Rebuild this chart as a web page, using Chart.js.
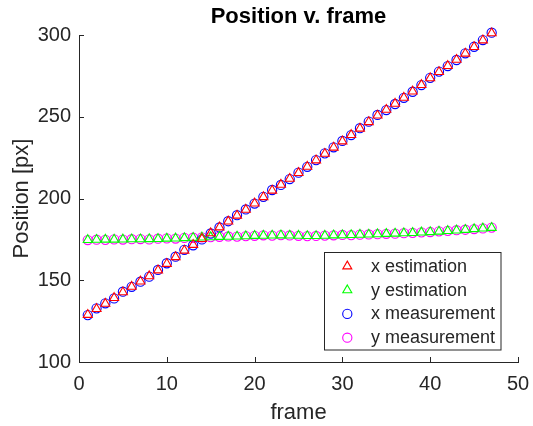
<!DOCTYPE html>
<html><head><meta charset="utf-8">
<script src="https://cdn.jsdelivr.net/npm/chart.js@4/dist/chart.umd.min.js"></script>
<style>html,body{margin:0;padding:0;background:#fff;overflow:hidden}#wrap{width:533px;height:426px;position:relative}</style>
</head><body><div id="wrap"><canvas id="c" width="533" height="426"></canvas></div>
<script>
const frames = [1,2,3,4,5,6,7,8,9,10,11,12,13,14,15,16,17,18,19,20,21,22,23,24,25,26,27,28,29,30,31,32,33,34,35,36,37,38,39,40,41,42,43,44,45,46,47];
const xEstimation = [128.9,132.5,135.7,139.2,142.7,146.1,149.3,152.5,156.1,160.1,164.2,168.2,171.7,175.3,178.8,182.4,186.0,189.6,193.2,197.0,200.9,204.9,208.5,212.1,215.7,219.5,223.4,227.4,231.2,235.0,238.9,242.8,246.8,250.8,254.3,258.0,261.7,265.5,269.5,273.6,277.4,281.1,284.9,288.7,292.7,296.8,301.1];
const yEstimation = [174.7,174.8,174.9,174.9,175.0,175.1,175.1,175.2,175.3,175.5,175.6,175.8,176.0,176.2,176.4,176.6,176.7,176.8,177.0,177.2,177.3,177.4,177.5,177.4,177.3,177.1,177.1,177.3,177.5,177.6,177.7,177.9,178.0,178.2,178.4,178.6,178.8,179.0,179.3,179.5,179.8,180.2,180.5,180.9,181.3,181.7,182.1];
const xMeasurement = [128.7,132.8,135.9,138.9,143.0,146.0,149.1,152.2,156.3,160.4,164.4,168.6,171.4,175.0,178.6,182.3,186.1,189.8,193.3,196.9,201.0,205.2,208.3,211.9,215.8,219.4,223.5,227.6,231.3,235.2,238.8,243.0,247.0,251.1,254.1,257.8,261.6,265.3,269.4,273.8,277.6,281.0,284.7,288.8,292.8,296.9,301.4];
const yMeasurement = [174.6,174.8,174.7,175.0,174.9,175.1,175.2,175.0,175.4,175.6,175.5,175.9,176.0,176.2,176.4,176.6,176.8,176.7,177.0,177.2,177.5,177.3,177.6,177.4,177.2,177.0,177.1,177.3,177.5,177.7,177.6,177.9,178.0,178.2,178.4,178.5,178.8,179.0,179.3,179.5,179.9,180.2,180.6,180.9,181.3,181.7,182.2];
const seriesLabels = ['x estimation','y estimation','x measurement','y measurement'];
const xTicks = [0,10,20,30,40,50];
const yTicks = [100,150,200,250,300];
const titleText = 'Position v. frame';
const xTitle = 'frame';
const yTitle = 'Position [px]';

const FONT = '"Liberation Sans", Arial, Helvetica, sans-serif';
const AX = '#262626';
const colors = ['#ff0000','#00ff00','#0000ff','#ff00ff'];
const styles = ['triangle','triangle','circle','circle'];
const radii = [5.2,5.2,4.6,4.6];
const seriesVals = [xEstimation, yEstimation, xMeasurement, yMeasurement];

const pts = arr => frames.map((f,i)=>({x:f, y:arr[i]}));

const datasets = seriesVals.map((arr,i)=>({
  label: seriesLabels[i],
  data: pts(arr),
  showLine:false,
  pointStyle: styles[i],
  pointRadius: radii[i],
  pointHoverRadius: radii[i],
  borderColor: colors[i],
  backgroundColor: 'rgba(0,0,0,0)',
  pointBorderWidth: 1.1,
  borderWidth: 1.1,
  clip: false
}));

function marker(ctx, style, x, y, r){
  ctx.beginPath();
  if(style==='circle'){ ctx.arc(x,y,r,0,Math.PI*2); }
  else {
    let rad = 0;
    ctx.moveTo(x+Math.sin(rad)*r, y-Math.cos(rad)*r);
    rad += 2*Math.PI/3; ctx.lineTo(x+Math.sin(rad)*r, y-Math.cos(rad)*r);
    rad += 2*Math.PI/3; ctx.lineTo(x+Math.sin(rad)*r, y-Math.cos(rad)*r);
    ctx.closePath();
  }
  ctx.stroke();
}

const inwardTicks = {
  id:'inwardTicks',
  afterDatasetsDraw(chart){
    const {ctx, chartArea:a, scales:{x,y}} = chart;
    ctx.save(); ctx.strokeStyle=AX; ctx.lineWidth=1; ctx.beginPath();
    x.ticks.forEach(t=>{const px=Math.round(x.getPixelForValue(t.value))+0.5; ctx.moveTo(px,a.bottom); ctx.lineTo(px,a.bottom-5);});
    y.ticks.forEach(t=>{const py=Math.round(y.getPixelForValue(t.value))+0.5; ctx.moveTo(a.left,py); ctx.lineTo(a.left+5,py);});
    ctx.stroke(); ctx.restore();
  }
};

const boxLegend = {
  id:'boxLegend',
  afterDraw(chart){
    const ctx = chart.ctx;
    const bx=324.5, by=252.5, bw=176.5, bh=97.5;
    ctx.save();
    ctx.fillStyle='#fff'; ctx.fillRect(bx,by,bw,bh);
    ctx.strokeStyle=AX; ctx.lineWidth=1; ctx.strokeRect(bx,by,bw,bh);
    ctx.font = '18px '+FONT; ctx.textBaseline='middle'; ctx.textAlign='left';
    chart.data.datasets.forEach((ds,i)=>{
      const cy = 266.3 + 23.8*i;
      ctx.strokeStyle = ds.borderColor; ctx.lineWidth=1.1;
      marker(ctx, ds.pointStyle, 347.3, cy, ds.pointRadius);
      ctx.fillStyle = AX;
      ctx.fillText(ds.label, 371, cy+0.5);
    });
    ctx.restore();
  }
};

new Chart(document.getElementById('c'), {
  type:'scatter',
  data:{datasets},
  plugins:[inwardTicks, boxLegend],
  options:{
    responsive:false, animation:false, devicePixelRatio:1,
    layout:{padding:{left:0,right:15,top:0,bottom:0}},
    plugins:{
      legend:{display:false}, tooltip:{enabled:false},
      title:{display:true, text:titleText, fullSize:false, color:'#000',
        font:{family:FONT, size:22, weight:'bold', lineHeight:1.2}, padding:{top:4,bottom:4.6}}
    },
    scales:{
      x:{type:'linear', min:0, max:50,
        afterBuildTicks:s=>{s.ticks = xTicks.map(v=>({value:v}));},
        afterFit:s=>{s.height=64; s.paddingLeft=0; s.paddingRight=0;},
        grid:{display:false, drawTicks:false},
        border:{display:true, color:AX, width:1},
        ticks:{color:AX, padding:10, maxRotation:0, font:{family:FONT,size:20,lineHeight:1.2}},
        title:{display:true, text:xTitle, color:AX, font:{family:FONT,size:22,lineHeight:1.2}, padding:{top:0,bottom:0}}
      },
      y:{type:'linear', min:100, max:300,
        afterBuildTicks:s=>{s.ticks = yTicks.map(v=>({value:v}));},
        afterFit:s=>{s.width=79; s.paddingTop=0; s.paddingBottom=0;},
        grid:{display:false, drawTicks:false},
        border:{display:true, color:AX, width:1},
        ticks:{color:AX, padding:8, font:{family:FONT,size:20,lineHeight:1.2}},
        title:{display:true, text:yTitle, color:AX, font:{family:FONT,size:22,lineHeight:1.2}, padding:{top:9,bottom:0}}
      }
    }
  }
});
</script></body></html>
